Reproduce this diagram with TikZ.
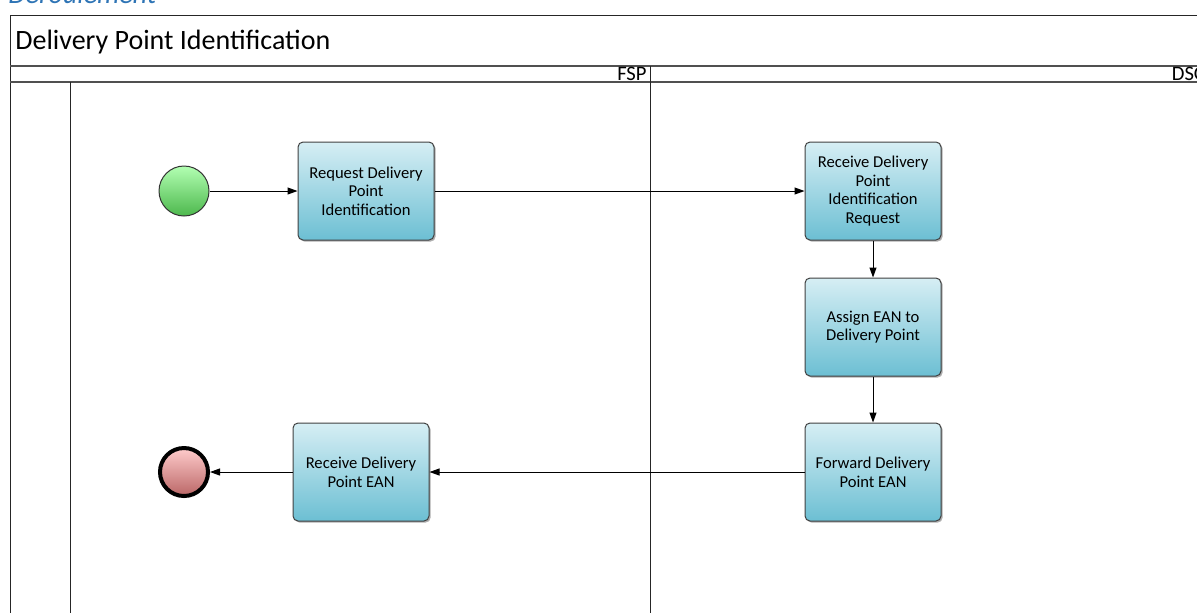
\documentclass[tikz,border=0pt]{standalone}
\usepackage{fontspec}
\setmainfont{Carlito}
\usetikzlibrary{arrows.meta,shadows}

\definecolor{taskTop}{HTML}{D6EEF4}
\definecolor{taskBot}{HTML}{6CBFD3}
\definecolor{laneLine}{HTML}{505050}
\definecolor{headBlue}{HTML}{2E74B5}

\begin{document}
\begin{tikzpicture}[x=0.5pt,y=-0.5pt,
	task/.style={draw=black!75,line width=0.5pt,rounded corners=2.5pt,top color=taskTop,bottom color=taskBot,
		minimum width=68pt,minimum height=49pt,align=center,font=\fontsize{8.3}{9.3}\selectfont,
		drop shadow={shadow xshift=0.8pt,shadow yshift=-0.8pt,fill=black!45,opacity=0.7}},
	flow/.style={-{Triangle[length=5pt,width=3.5pt]},line width=0.5pt}]
\clip (0,0) rectangle (1197,612);
% pool and lanes
\node[anchor=base west,text=headBlue,font=\fontsize{14}{16}\itshape\selectfont,inner sep=0pt] (chapter) at (8,3) {Déroulement};
\draw[black!85,line width=0.5pt] (10,15) rectangle (1220,640);
\draw[laneLine,line width=1pt] (10,66) -- (1220,66)
	(10,82) -- (1220,82);
\draw[black!85,line width=0.5pt] (70,82) -- (70,640)
	(650,66) -- (650,640);
\node[anchor=base west,inner sep=0pt,font=\fontsize{14}{16}\selectfont] (title) at (15,49) {Delivery Point Identification};
\node[anchor=base east,inner sep=0pt,font=\fontsize{10.3}{12}\selectfont] (fsp) at (647,80.5) {FSP};
\node[anchor=base east,inner sep=0pt,font=\fontsize{10.3}{12}\selectfont] (dso) at (1208,80.5) {DSO};
% events
\node[circle,draw=black!80,line width=0.5pt,top color=green!30!white,bottom color=green!60!black!70!white,minimum size=25pt,inner sep=0pt] (start) at (184,191) {};
\node[circle,draw=black,line width=2pt,top color=red!20!white,bottom color=red!55!black!60!white,minimum size=24pt,inner sep=0pt] (end) at (184,472) {};
% tasks
\node[task] (request) at (366,191) {Request Delivery\\Point\\Identification};
\node[task] (recvreq) at (873,191) {Receive Delivery\\Point\\Identification\\Request};
\node[task] (assign) at (873,327) {Assign EAN to\\Delivery Point};
\node[task] (forward) at (873,472) {Forward Delivery\\Point EAN};
\node[task] (recvean) at (361,472) {Receive Delivery\\Point EAN};
% sequence flows
\draw[flow] (start) -- (request);
\draw[flow] (request) -- (recvreq);
\draw[flow] (recvreq) -- (assign);
\draw[flow] (assign) -- (forward);
\draw[flow] (forward) -- (recvean);
\draw[flow] (recvean) -- (end);
\end{tikzpicture}
\end{document}
